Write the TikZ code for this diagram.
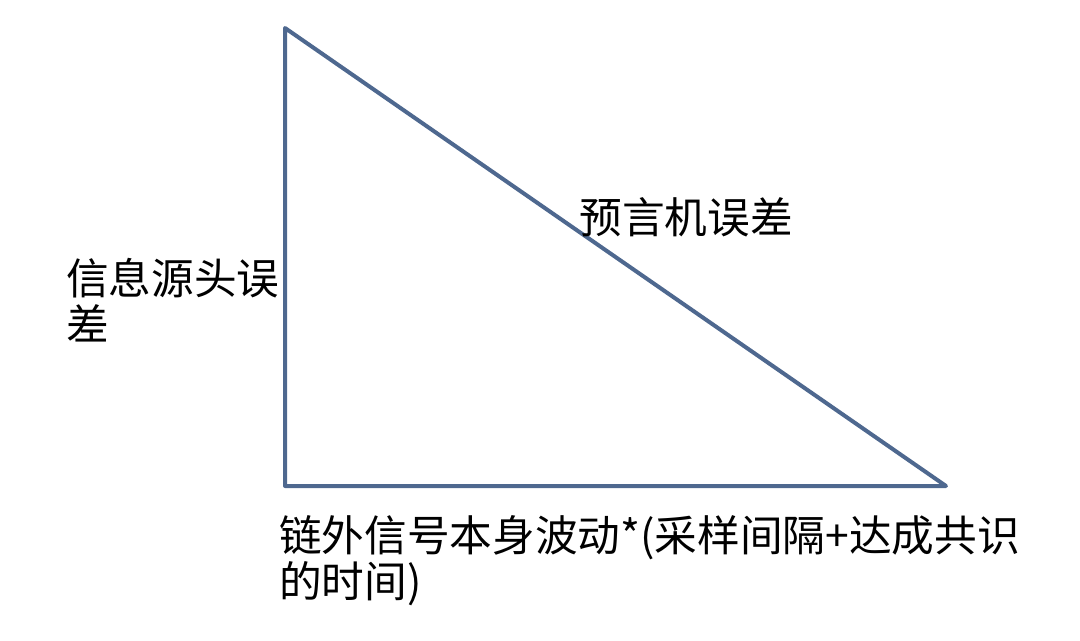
\documentclass[tikz,border=0pt]{standalone}
\usepackage{fontspec}
\usepackage{tikz}
\newfontfamily\cjk{Noto Sans CJK SC}
\tikzset{
  edgeline/.style={draw={rgb,255:red,78;green,104;blue,143}, line width=3pt, line join=round},
  cjklabel/.style={font=\cjk\fontsize{32}{34.5}\selectfont, inner sep=0pt, align=left}
}

\begin{document}
\begin{tikzpicture}[x=0.75pt,y=0.75pt,yscale=-1]
\useasboundingbox (0,0) rectangle (1080,640);

%Shape: Right Triangle
\coordinate (apex) at (285,28);
\coordinate (corner) at (285,486);
\coordinate (tip) at (946,486);
\draw [edgeline] (apex) -- (corner) -- (tip) -- cycle ;

% Text Node
\node [cjklabel, anchor=center] (oracle) at (686,217) {预言机误差};
% Text Node
\node [cjklabel, anchor=north west] (source) at (66,258) {信息源头误\\差};
% Text Node
\node [cjklabel, anchor=north west] (signal) at (279,515) {链外信号本身波动*(采样间隔+达成共识\\的时间)};

\end{tikzpicture}
\end{document}
